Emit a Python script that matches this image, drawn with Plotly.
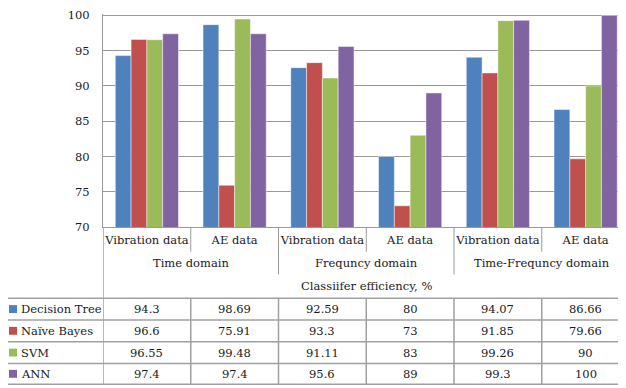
import plotly.graph_objects as go

categories = ["Vibration data", "AE data", "Vibration data", "AE data", "Vibration data", "AE data"]
groups = ["Time domain", "Frequncy domain", "Time-Frequncy domain"]
axis_title = "Classiifer efficiency, %"
series_names = ["Decision Tree", "Naïve Bayes", "SVM", "ANN"]
decision_tree = [94.3, 98.69, 92.59, 80, 94.07, 86.66]
naive_bayes = [96.6, 75.91, 93.3, 73, 91.85, 79.66]
svm = [96.55, 99.48, 91.11, 83, 99.26, 90]
ann = [97.4, 97.4, 95.6, 89, 99.3, 100]
y_ticks = [70, 75, 80, 85, 90, 95, 100]

series = [decision_tree, naive_bayes, svm, ann]
colors = ["#4F81BD", "#C0504D", "#9BBB59", "#8064A2"]

OFF = 8
W, H = 626 - OFF, 388 - OFF
Y_TOP = 100.2
PLOT_L, PLOT_B = 103, 227
Y100 = 13
SCALE = (PLOT_B - Y100) / (100 - 70)
PLOT_T = PLOT_B - SCALE * (Y_TOP - 70)
L = PLOT_L - OFF
T = PLOT_T - OFF
B = H - (PLOT_B - OFF)
R = 0
PW = W - L - R
PH = H - T - B
FONT = "DejaVu Serif"
FS = 11.5
TXT = "#1a1a1a"
GRID = "#9a9a9a"
TLINE = "#a0a0a0"


def px(p):
    return (p - PLOT_L) / PW


def py(p):
    return (PLOT_B - p) / PH


xs = list(range(len(categories)))

fig = go.Figure()
for name, vals, col in zip(series_names, series, colors):
    fig.add_trace(go.Bar(
        x=xs, y=vals, name=name,
        marker=dict(color=col, line=dict(color="rgba(255,255,255,0.45)", width=1)),
    ))

shapes = []
annotations = []

for i in range(len(categories) - 1):
    boundary = i + 0.5
    is_group = (i % 2 == 1)
    shapes.append(dict(type="line", xref="x", yref="paper",
                       x0=boundary, x1=boundary, y0=py(227), y1=py(275 if is_group else 252),
                       line=dict(color=GRID, width=1)))

for g, name in enumerate(groups):
    annotations.append(dict(xref="x", yref="paper", x=2 * g + 0.5, y=py(263),
                            text=name, showarrow=False, xanchor="center", yanchor="middle",
                            font=dict(family=FONT, size=FS, color=TXT)))

annotations.append(dict(xref="paper", yref="paper", x=px(366), y=py(287),
                        text=axis_title, showarrow=False, xanchor="center", yanchor="middle",
                        font=dict(family=FONT, size=FS, color=TXT)))

row_lines = [299, 321, 343, 365, 386]
for yl in row_lines:
    shapes.append(dict(type="line", xref="paper", yref="paper",
                       x0=px(7), x1=1.02, y0=py(yl), y1=py(yl),
                       line=dict(color=TLINE, width=1.5)))
shapes.append(dict(type="line", xref="paper", yref="paper", x0=px(7), x1=px(7),
                   y0=py(299), y1=py(386), line=dict(color=TLINE, width=1.5)))
shapes.append(dict(type="line", xref="x", yref="paper", x0=-0.5, x1=-0.5,
                   y0=py(227), y1=py(386), line=dict(color=TLINE, width=1.5)))
for i in range(len(categories) - 1):
    shapes.append(dict(type="line", xref="x", yref="paper", x0=i + 0.5, x1=i + 0.5,
                       y0=py(299), y1=py(386), line=dict(color=TLINE, width=1.5)))

for r, (name, vals, col) in enumerate(zip(series_names, series, colors)):
    yc = (row_lines[r] + row_lines[r + 1]) / 2
    shapes.append(dict(type="rect", xref="paper", yref="paper",
                       x0=px(9), x1=px(17), y0=py(yc + 4), y1=py(yc - 4),
                       fillcolor=col, line=dict(width=0)))
    annotations.append(dict(xref="paper", yref="paper", x=px(19), y=py(yc),
                            text=name, showarrow=False, xanchor="left", yanchor="middle",
                            font=dict(family=FONT, size=FS, color=TXT)))
    for c, v in enumerate(vals):
        annotations.append(dict(xref="x", yref="paper", x=c, y=py(yc),
                                text=f"{v:g}", showarrow=False, xanchor="center", yanchor="middle",
                                font=dict(family=FONT, size=FS, color=TXT)))

fig.update_layout(
    width=W, height=H,
    margin=dict(l=L, r=R, t=T, b=B, pad=0),
    paper_bgcolor="white", plot_bgcolor="white",
    barmode="group", bargap=0.28, bargroupgap=0,
    showlegend=False,
    shapes=shapes, annotations=annotations,
    font=dict(family=FONT, size=FS, color=TXT),
    xaxis=dict(
        range=[-0.5, 5.46], tickmode="array", tickvals=xs, ticktext=categories,
        showgrid=False, showline=True, linecolor=GRID, linewidth=1,
        ticks="", ticklabelstandoff=2,
        tickfont=dict(family=FONT, size=FS, color=TXT), fixedrange=True,
    ),
    yaxis=dict(
        range=[70, Y_TOP], tickvals=y_ticks, showgrid=True, gridcolor=GRID, gridwidth=1,
        showline=True, linecolor=GRID, linewidth=1, ticks="", ticklabelstandoff=10,
        ticklabeloverflow="allow",
        tickfont=dict(family=FONT, size=FS, color=TXT), zeroline=False,
    ),
)

fig.write_html("out.html")
